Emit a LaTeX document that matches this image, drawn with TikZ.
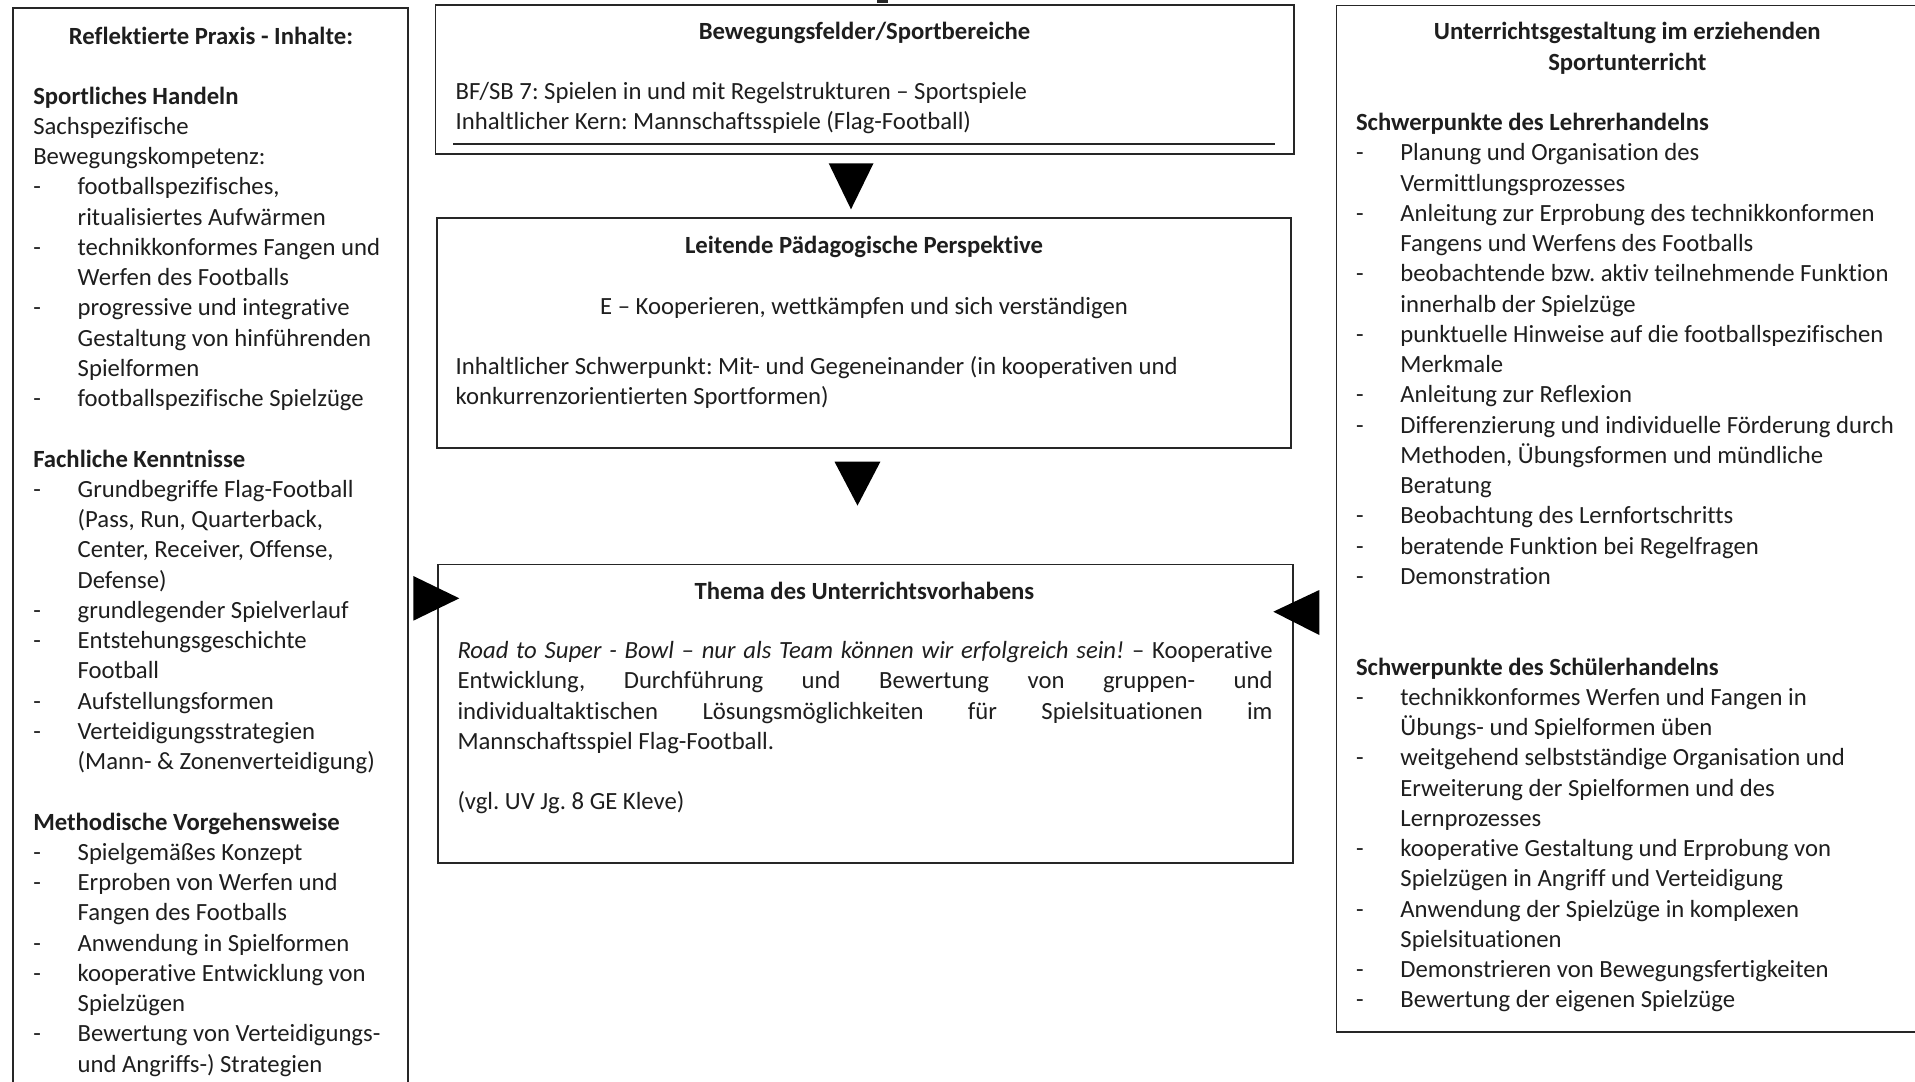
\documentclass[tikz,border=0pt]{standalone}
\usepackage{fontspec}
\setmainfont[Ligatures={NoCommon}]{Carlito}
\frenchspacing
\definecolor{txt}{HTML}{1E1E1E}
\definecolor{frame}{HTML}{262626}
\newcommand{\bl}{\makebox[44.4pt][l]{-}}
\newcommand{\ct}{\hspace*{44.4pt}}
\begin{document}
\begin{tikzpicture}[x=1pt,y=-1pt,
  font=\fontsize{24.7}{30.25}\selectfont\frenchspacing,
  every node/.style={text=txt},
  boxst/.style={draw=frame, line width=1.8pt, inner sep=0pt, outer sep=0pt, anchor=north west, rectangle},
  txtblock/.style={inner sep=0pt, outer sep=0pt, anchor=base west},
  ctitle/.style={inner sep=0pt, outer sep=0pt, anchor=base, font=\fontsize{24.7}{30.25}\selectfont\bfseries},
  tri/.style={fill=black}]
\useasboundingbox (0,0) rectangle (1915,1082);
\clip (0,0) rectangle (1915,1082);
\fill[white] (0,0) rectangle (1915,1082);

% ---------- frames ----------
\node[boxst, minimum width=395pt, minimum height=1100pt] (lbox) at (13.3,8.3) {};
\node[boxst, minimum width=858.2pt, minimum height=149.3pt] (bf) at (435.5,5) {};
\node[boxst, minimum width=853.7pt, minimum height=230pt] (lpp) at (437.2,218.3) {};
\node[boxst, minimum width=854.4pt, minimum height=298.8pt] (thema) at (438.2,564.5) {};
\node[boxst, minimum width=582pt, minimum height=1026.2pt] (rbox) at (1336.5,5.5) {};

% small mark above top box
\fill[frame] (877,0) rectangle (888,2.5);

% rule inside top box
\draw[frame, line width=1.8pt] (453,144) -- (1275,144);

% ---------- triangles ----------
\fill[tri] (828.7,163.3) -- (873.5,163.3) -- (851,209.3) -- cycle;
\fill[tri] (834.5,461.7) -- (880.4,461.7) -- (857.5,505.6) -- cycle;
\fill[tri] (413.3,576) -- (413.3,620.7) -- (459.3,598.3) -- cycle;
\fill[tri] (1319.3,590) -- (1319.3,635) -- (1273.3,611.7) -- cycle;

% ---------- top box text ----------
\node[ctitle] (bftitle) at (864.6,39.3) {Bewegungsfelder/Sportbereiche};
\node[txtblock] (bftext) at (455.6,99.0) {\begin{minipage}[t]{820pt}\setlength\parindent{0pt}\raggedright
BF/SB 7: Spielen in und mit Regelstrukturen – Sportspiele\\
Inhaltlicher Kern: Mannschaftsspiele (Flag-Football)
\end{minipage}};

\begin{scope}[yshift=-1.2pt]
% ---------- middle box text ----------
\node[ctitle] (lpptitle) at (864,252.7) {Leitende Pädagogische Perspektive};
\node[inner sep=0pt, anchor=base] (lppe) at (864,313.2) {E – Kooperieren, wettkämpfen und sich verständigen};
\node[txtblock] (lpptext) at (455.6,373.5) {\begin{minipage}[t]{820pt}\setlength\parindent{0pt}\raggedright
Inhaltlicher Schwerpunkt: Mit- und Gegeneinander (in kooperativen und\\
konkurrenzorientierten Sportformen)
\end{minipage}};

% ---------- thema box text ----------
\node[ctitle] (thtitle) at (864.5,598.3) {Thema des Unterrichtsvorhabens};
\node[txtblock] (thtext) at (457.5,657.3) {\begin{minipage}[t]{815.2pt}\setlength\parindent{0pt}\raggedright
\makebox[815.2pt][s]{\textit{Road to Super - Bowl – nur als Team können wir erfolgreich sein!} – Kooperative}\\
\makebox[815.2pt][s]{Entwicklung, Durchführung und Bewertung von gruppen- und}\\
\makebox[815.2pt][s]{individualtaktischen Lösungsmöglichkeiten für Spielsituationen im}\\
Mannschaftsspiel Flag-Football.\\[30.25pt]
(vgl. UV Jg. 8 GE Kleve)
\end{minipage}};
\end{scope}

\begin{scope}[yshift=-2.3pt]
% ---------- left box text ----------
\node[ctitle] (ltitle) at (211,41.7) {Reflektierte Praxis - Inhalte:};
\node[txtblock] (ltext) at (33.3,101.7) {\begin{minipage}[t]{400pt}\setlength\parindent{0pt}\raggedright
\textbf{Sportliches Handeln}\\
Sachspezifische\\
Bewegungskompetenz:\\
\bl footballspezifisches,\\
\ct ritualisiertes Aufwärmen\\
\bl technikkonformes Fangen und\\
\ct Werfen des Footballs\\
\bl progressive und integrative\\
\ct Gestaltung von hinführenden\\
\ct Spielformen\\
\bl footballspezifische Spielzüge\\[30.25pt]
\textbf{Fachliche Kenntnisse}\\
\bl Grundbegriffe Flag-Football\\
\ct (Pass, Run, Quarterback,\\
\ct Center, Receiver, Offense,\\
\ct Defense)\\
\bl grundlegender Spielverlauf\\
\bl Entstehungsgeschichte\\
\ct Football\\
\bl Aufstellungsformen\\
\bl Verteidigungsstrategien\\
\ct (Mann- \& Zonenverteidigung)\\[30.25pt]
\textbf{Methodische Vorgehensweise}\\
\bl Spielgemäßes Konzept\\
\bl Erproben von Werfen und\\
\ct Fangen des Footballs\\
\bl Anwendung in Spielformen\\
\bl kooperative Entwicklung von\\
\ct Spielzügen\\
\bl Bewertung von Verteidigungs-\\
\ct und Angriffs-) Strategien
\end{minipage}};

% ---------- right box text ----------
\node[inner sep=0pt, anchor=base] (rtitle) at (1627.3,37.5) {\begin{minipage}[t]{560pt}\centering\bfseries
Unterrichtsgestaltung im erziehenden\\
Sportunterricht
\end{minipage}};
\node[txtblock] (rtext) at (1356,128.3) {\begin{minipage}[t]{540pt}\setlength\parindent{0pt}\raggedright
\textbf{Schwerpunkte des Lehrerhandelns}\\
\bl Planung und Organisation des\\
\ct Vermittlungsprozesses\\
\bl Anleitung zur Erprobung des technikkonformen\\
\ct Fangens und Werfens des Footballs\\
\bl beobachtende bzw. aktiv teilnehmende Funktion\\
\ct innerhalb der Spielzüge\\
\bl punktuelle Hinweise auf die footballspezifischen\\
\ct Merkmale\\
\bl Anleitung zur Reflexion\\
\bl Differenzierung und individuelle Förderung durch\\
\ct Methoden, Übungsformen und mündliche\\
\ct Beratung\\
\bl Beobachtung des Lernfortschritts\\
\bl beratende Funktion bei Regelfragen\\
\bl Demonstration\\[60.5pt]
\textbf{Schwerpunkte des Schülerhandelns}\\
\bl technikkonformes Werfen und Fangen in\\
\ct Übungs- und Spielformen üben\\
\bl weitgehend selbstständige Organisation und\\
\ct Erweiterung der Spielformen und des\\
\ct Lernprozesses\\
\bl kooperative Gestaltung und Erprobung von\\
\ct Spielzügen in Angriff und Verteidigung\\
\bl Anwendung der Spielzüge in komplexen\\
\ct Spielsituationen\\
\bl Demonstrieren von Bewegungsfertigkeiten\\
\bl Bewertung der eigenen Spielzüge
\end{minipage}};
\end{scope}
\end{tikzpicture}
\end{document}
